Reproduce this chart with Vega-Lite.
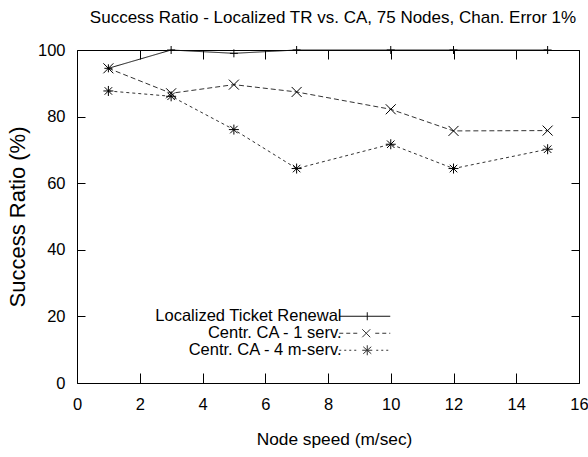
{
  "$schema": "https://vega.github.io/schema/vega-lite/v6.json",
  "width": 502,
  "height": 333,
  "autosize": {"type": "none"},
  "padding": {"left": 77, "top": 50, "right": 9, "bottom": 74},
  "background": "white",
  "config": {
    "view": {"stroke": "black", "strokeWidth": 1},
    "font": "Liberation Sans",
    "axis": {"grid": false, "domainColor": "black", "tickColor": "black", "labelColor": "black", "titleColor": "black", "labelFont": "Liberation Sans", "titleFont": "Liberation Sans", "labelFontSize": 16.5, "titleFontWeight": "normal"}
  },
  "title": {"text": "Success Ratio - Localized TR vs. CA, 75 Nodes, Chan. Error 1%", "font": "Liberation Sans", "fontSize": 17, "fontWeight": "normal", "color": "black", "offset": 15, "dx": 5},
  "data": {"values": [
    {"speed": 1, "ratio": 94.5, "series": "Localized Ticket Renewal"},
    {"speed": 3, "ratio": 100, "series": "Localized Ticket Renewal"},
    {"speed": 5, "ratio": 99, "series": "Localized Ticket Renewal"},
    {"speed": 7, "ratio": 100, "series": "Localized Ticket Renewal"},
    {"speed": 10, "ratio": 100, "series": "Localized Ticket Renewal"},
    {"speed": 12, "ratio": 100, "series": "Localized Ticket Renewal"},
    {"speed": 15, "ratio": 100, "series": "Localized Ticket Renewal"},
    {"speed": 1, "ratio": 94.5, "series": "Centr. CA - 1 serv."},
    {"speed": 3, "ratio": 87, "series": "Centr. CA - 1 serv."},
    {"speed": 5, "ratio": 89.6, "series": "Centr. CA - 1 serv."},
    {"speed": 7, "ratio": 87.4, "series": "Centr. CA - 1 serv."},
    {"speed": 10, "ratio": 82.2, "series": "Centr. CA - 1 serv."},
    {"speed": 12, "ratio": 75.7, "series": "Centr. CA - 1 serv."},
    {"speed": 15, "ratio": 75.8, "series": "Centr. CA - 1 serv."},
    {"speed": 1, "ratio": 87.7, "series": "Centr. CA - 4 m-serv."},
    {"speed": 3, "ratio": 86.1, "series": "Centr. CA - 4 m-serv."},
    {"speed": 5, "ratio": 76.1, "series": "Centr. CA - 4 m-serv."},
    {"speed": 7, "ratio": 64.4, "series": "Centr. CA - 4 m-serv."},
    {"speed": 10, "ratio": 71.7, "series": "Centr. CA - 4 m-serv."},
    {"speed": 12, "ratio": 64.4, "series": "Centr. CA - 4 m-serv."},
    {"speed": 15, "ratio": 70.2, "series": "Centr. CA - 4 m-serv."}
  ]},
  "layer": [
    {
      "mark": {"type": "line", "strokeWidth": 1},
      "encoding": {
        "x": {"field": "speed", "type": "quantitative", "scale": {"domain": [0, 16], "nice": false, "zero": false},
              "axis": {"orient": "bottom", "values": [0, 2, 4, 6, 8, 10, 12, 14, 16], "tickSize": -10, "labelPadding": 23, "title": "Node speed (m/sec)", "titleFontSize": 17.3, "titlePadding": 18, "titleX": 257, "labelFlush": false, "domain": false}},
        "y": {"field": "ratio", "type": "quantitative", "scale": {"domain": [0, 100], "nice": false},
              "axis": {"orient": "left", "values": [0, 20, 40, 60, 80, 100], "tickSize": -8, "labelPadding": 20, "title": "Success Ratio (%)", "titleFontSize": 22, "titlePadding": 8, "labelFlush": false, "domain": false}},
        "strokeDash": {"field": "series", "type": "nominal", "sort": ["Localized Ticket Renewal", "Centr. CA - 1 serv.", "Centr. CA - 4 m-serv."], "scale": {"range": [[1, 0], [5, 3], [3, 3]]}, "legend": null},
        "color": {"field": "series", "type": "nominal",
          "scale": {"domain": ["Localized Ticket Renewal", "Centr. CA - 1 serv.", "Centr. CA - 4 m-serv."], "range": ["#111111", "#333333", "#333333"]},
          "legend": {
            "title": null, "orient": "none", "legendX": 280, "legendY": 258, "padding": 0,
            "labelFont": "Liberation Sans", "labelFontSize": 16.5, "labelColor": "black",
            "labelAlign": "right", "labelOffset": -32, "labelLimit": 400,
            "symbolSize": 4, "symbolStrokeWidth": 1, "symbolFillColor": "transparent",
            "rowPadding": -1,
            "encode": {"symbols": {"update": {"shape": {"signal": "datum.value === 'Localized Ticket Renewal' ? 'M-26,0H25M2,-4V4' : datum.value === 'Centr. CA - 1 serv.' ? 'M-26,0H-22M-19,0H-15M-12,0H-8M-3,-4L5,4M-3,4L5,-4M10,0H14M17,0H21M24,0H25' : 'M-26,0H-24M-21,0H-19M-16,0H-14M-11,0H-9M11,0H13M16,0H18M21,0H23M-3,0H7M2,-5V5M-2,-3.5L6,3.5M-2,3.5L6,-3.5'"}}}}
          }
        }
      }
    },
    {
      "mark": {"type": "point", "filled": false, "strokeWidth": 1, "size": 100, "color": "black", "opacity": 1},
      "encoding": {
        "x": {"field": "speed", "type": "quantitative", "axis": {"orient": "top", "values": [0, 2, 4, 6, 8, 10, 12, 14, 16], "tickSize": -9, "labels": false, "title": null, "domain": false}},
        "y": {"field": "ratio", "type": "quantitative", "axis": {"orient": "right", "values": [0, 20, 40, 60, 80, 100], "tickSize": -8, "labels": false, "title": null, "domain": false}},
        "shape": {"field": "series", "type": "nominal", "sort": ["Localized Ticket Renewal", "Centr. CA - 1 serv.", "Centr. CA - 4 m-serv."],
          "scale": {"range": ["M-0.8,0H0.8M0,-0.8V0.8", "M-1,-1L1,1M-1,1L1,-1", "M-1,0H1M0,-1V1M-0.75,-0.75L0.75,0.75M-0.75,0.75L0.75,-0.75"]},
          "legend": null
        }
      }
    }
  ]
}
